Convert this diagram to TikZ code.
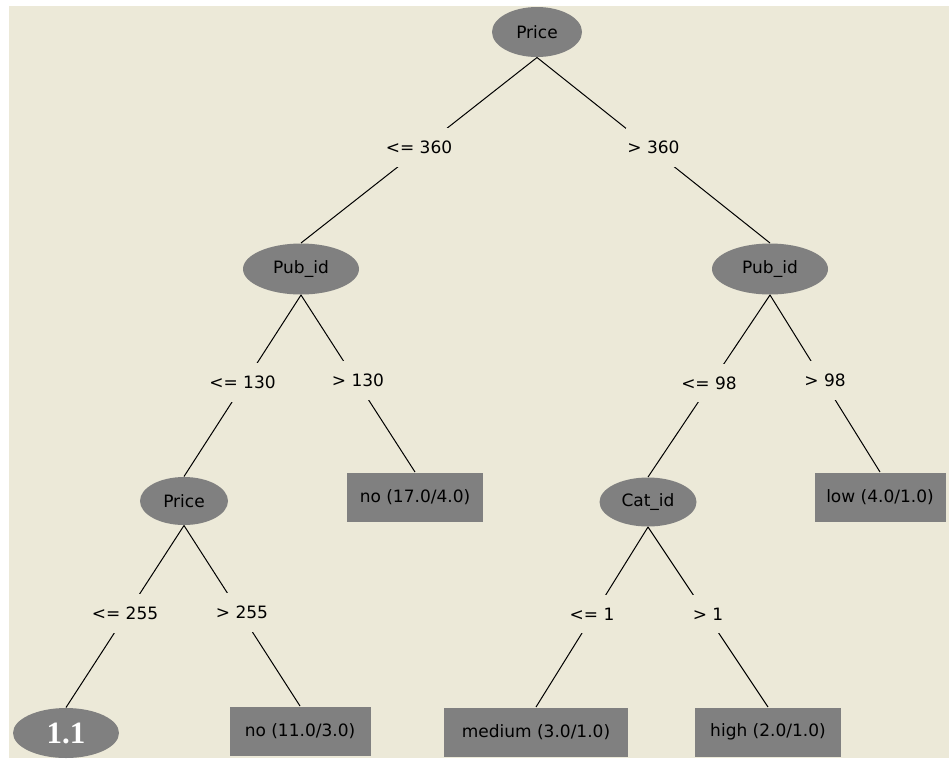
\documentclass[tikz,border=0pt]{standalone}
\usepackage{fontspec}
\setmainfont{DejaVu Sans}
\newfontfamily\leaffont{Liberation Serif}
\usetikzlibrary{shapes.geometric}
\definecolor{panel}{HTML}{ECE9D8}
\definecolor{nodegray}{HTML}{808080}
\begin{document}
\begin{tikzpicture}[x=1pt,y=-1pt,line width=1pt,
  split/.style={ellipse,fill=nodegray,inner sep=0pt,font=\fontsize{17}{20}\selectfont},
  leaf/.style={rectangle,fill=nodegray,inner sep=0pt,minimum height=49pt,font=\fontsize{17}{20}\selectfont},
  cond/.style={midway,yshift=3pt,fill=panel,inner xsep=1pt,inner ysep=13pt,font=\fontsize{17}{20}\selectfont}]
  \useasboundingbox (0,0) rectangle (949,758);
  \fill[white] (0,0) rectangle (949,758);
  \fill[panel] (9,6) rectangle (949,758);
  % splits
  \node[split,minimum width=90pt,minimum height=50pt] (root) at (537,32) {Price};
  \node[split,minimum width=116pt,minimum height=51pt] (pubL) at (301,269) {Pub\_id};
  \node[split,minimum width=116pt,minimum height=51pt] (pubR) at (770,269) {Pub\_id};
  \node[split,minimum width=88pt,minimum height=48pt] (priceL) at (184,501) {Price};
  \node[split,minimum width=97pt,minimum height=49pt] (catR) at (648,502) {Cat\_id};
  % leaves
  \node[split,minimum width=106pt,minimum height=50pt,text=white,font=\leaffont\bfseries\fontsize{31}{33}\selectfont] (leafA) at (66,733) {1.1};
  \node[leaf,minimum width=141pt] (leafB) at (300,731) {no (11.0/3.0)};
  \node[leaf,minimum width=136pt] (leafC) at (415,497) {no (17.0/4.0)};
  \node[leaf,minimum width=184pt] (leafD) at (536,732) {medium (3.0/1.0)};
  \node[leaf,minimum width=146pt] (leafE) at (768,732) {high (2.0/1.0)};
  \node[leaf,minimum width=131pt] (leafF) at (880,497) {low (4.0/1.0)};
  % branches
  \draw (root.south) -- node[cond] {<= 360} (pubL.north);
  \draw (root.south) -- node[cond] {> 360} (pubR.north);
  \draw (pubL.south) -- node[cond] {<= 130} (priceL.north);
  \draw (pubL.south) -- node[cond] {> 130} (leafC.north);
  \draw (pubR.south) -- node[cond] {<= 98} (catR.north);
  \draw (pubR.south) -- node[cond] {> 98} (leafF.north);
  \draw (priceL.south) -- node[cond] {<= 255} (leafA.north);
  \draw (priceL.south) -- node[cond] {> 255} (leafB.north);
  \draw (catR.south) -- node[cond] {<= 1} (leafD.north);
  \draw (catR.south) -- node[cond] {> 1} (leafE.north);
\end{tikzpicture}
\end{document}
